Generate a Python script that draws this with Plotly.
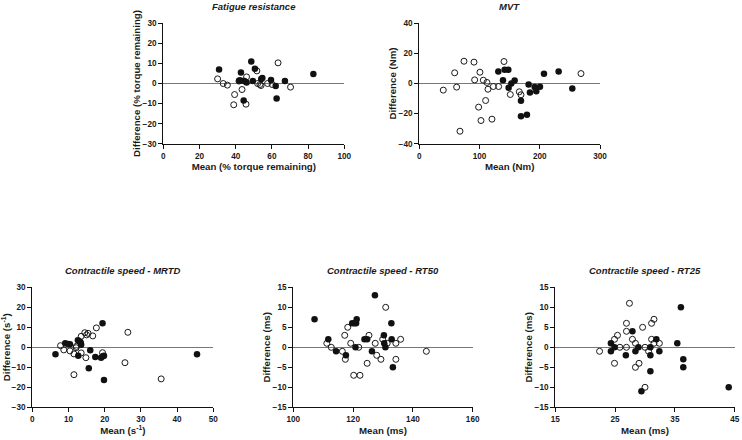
import plotly.graph_objects as go

# ---------------- data ----------------
fat_filled_x = [30.8, 42.9, 42.0, 42.7, 44.8, 46.0, 44.4, 48.6, 50.6, 49.5, 54.7, 54.1, 59.5, 62.1, 62.6, 67.2, 82.9]
fat_filled_y = [7.0, 5.5, 1.5, 1.5, 1.3, 0.5, -8.5, 11.0, 7.3, 1.3, 2.8, 2.3, 1.7, -1.3, -7.5, 1.3, 4.7]
fat_open_x = [30.0, 33.1, 35.4, 39.4, 38.9, 43.5, 45.7, 46.0, 41.8, 51.7, 52.1, 53.4, 54.0, 57.6, 60.2, 63.4, 70.3]
fat_open_y = [2.3, 0.0, -0.8, -5.5, -10.6, -3.0, -10.3, 3.3, 1.2, 6.3, 0.0, -0.5, -1.0, 0.0, -0.5, 10.3, -1.8]

mvt_filled_x = [131.2, 138.9, 141.7, 147.8, 148.3, 152.7, 158.3, 168.8, 168.8, 178.7, 181.5, 183.7, 191.5, 194.2, 200.3, 207.0, 231.3, 254.0]
mvt_filled_y = [8.0, 2.2, 9.1, 9.1, -2.9, 0.0, 2.0, -11.5, -21.7, -20.8, -0.7, -6.0, -2.4, -5.1, -2.2, 6.4, 8.0, -3.3]
mvt_open_x = [39.8, 58.7, 62.0, 67.5, 74.2, 90.8, 91.9, 98.5, 100.7, 102.4, 106.3, 110.1, 112.3, 114.0, 120.6, 122.9, 131.7, 140.6, 151.1, 166.0, 168.8, 268.4]
mvt_open_y = [-4.4, 7.1, -2.4, -31.7, 14.8, 14.2, 2.4, -15.7, 7.5, -24.6, 2.2, -11.3, 0.7, -3.8, -23.7, -2.0, -2.0, 14.6, -7.3, -5.5, -7.5, 6.6]

mrtd_filled_x = [6.4, 9.1, 9.9, 10.4, 12.6, 13.2, 13.4, 13.5, 12.7, 16.0, 15.6, 17.4, 19.0, 19.4, 19.5, 19.8, 19.8, 45.5]
mrtd_filled_y = [-3.5, 2.0, 1.7, 1.5, 3.5, 2.8, 2.2, 1.3, -4.2, -1.5, -10.5, -4.8, -5.2, 12.0, -4.5, -4.2, -16.3, -3.5]
mrtd_open_x = [7.8, 8.7, 10.4, 11.5, 11.5, 12.1, 12.2, 13.5, 13.5, 14.5, 15.0, 14.8, 15.4, 16.7, 17.7, 19.4, 26.4, 25.6, 35.6]
mrtd_open_y = [0.8, -1.3, -1.8, -3.3, -13.7, -0.2, 0.5, 5.5, -2.8, 7.3, 6.2, -5.2, 7.0, 5.7, 9.7, -2.7, 7.5, -7.7, -15.8]

rt50_filled_x = [107.1, 111.7, 114.3, 117.6, 119.7, 120.5, 121.0, 121.2, 120.8, 123.8, 124.7, 126.3, 127.3, 130.3, 130.4, 130.8, 132.8, 132.9, 133.3]
rt50_filled_y = [7, 2, -1, -2, 6, 6, 6, 7, 0, 2, 2, -1, 13, 3, 1, 0, 6, 2, -5]
rt50_open_x = [111.2, 112.7, 116.4, 117.2, 117.4, 118.2, 119.2, 120.2, 121.9, 122.3, 124.7, 125.3, 127.4, 127.9, 129.3, 129.9, 130.9, 131.4, 134.3, 134.3, 135.9, 144.5]
rt50_open_y = [1, 0, -1, 3, -3, 5, 1, -7, 0, -7, -4, 3, 1, -2, -3, 2, 10, 1, 1, -3, 2, -1]

rt25_filled_x = [24.3, 24.3, 24.9, 26.8, 27.9, 28.4, 28.9, 29.4, 30.9, 30.9, 30.9, 31.9, 32.4, 35.4, 36.0, 36.4, 36.4, 44.0]
rt25_filled_y = [1, -1, 0, -2, 4, -1, 0, -11, 0, -2, -6, 2, -1, 1, 10, -3, -5, -10]
rt25_open_x = [22.4, 24.9, 24.9, 25.4, 25.8, 26.9, 26.9, 26.9, 27.4, 27.9, 28.4, 28.4, 29.0, 29.6, 30.0, 30.0, 30.6, 31.1, 31.1, 31.5, 31.5, 32.4]
rt25_open_y = [-1, 2, -4, 3, 0, 0, 4, 6, 11, 2, 1, -5, -4, 5, 0, -10, -1, 6, 2, 7, 1, 1]

titles = ["Fatigue resistance", "MVT", "Contractile speed - MRTD",
          "Contractile speed - RT50", "Contractile speed - RT25"]
x_titles = ["Mean (% torque remaining)", "Mean (Nm)", "Mean (s<sup>-1</sup>)", "Mean (ms)", "Mean (ms)"]
y_titles = ["Difference (% torque remaining)", "Difference (Nm)", "Difference (s<sup>-1</sup>)",
            "Difference (ms)", "Difference (ms)"]
x_ranges = [[0, 100], [0, 300], [0, 50], [100, 160], [15, 45]]
x_dticks = [20, 100, 10, 20, 10]
y_ranges = [[-30, 30], [-40, 40], [-30, 30], [-15, 15], [-15, 15]]
y_dticks = [10, 20, 10, 5, 5]

panels = [
    (fat_filled_x, fat_filled_y, fat_open_x, fat_open_y),
    (mvt_filled_x, mvt_filled_y, mvt_open_x, mvt_open_y),
    (mrtd_filled_x, mrtd_filled_y, mrtd_open_x, mrtd_open_y),
    (rt50_filled_x, rt50_filled_y, rt50_open_x, rt50_open_y),
    (rt25_filled_x, rt25_filled_y, rt25_open_x, rt25_open_y),
]

# ---------------- layout geometry ----------------
W, H = 742, 440
x_dom_px = [(163.3, 344.3), (419.3, 600.0), (32.3, 213.3), (293.3, 472.7), (555.3, 734.7)]
y_dom_px = [(23.3, 143.7), (23.3, 143.7), (287.3, 407.3), (287.3, 407.3), (287.3, 407.3)]
title_y_px = [6, 6, 270, 270, 270]

FONT = "Liberation Sans, Arial, sans-serif"
INK = "#1a1a1a"

fig = go.Figure()
layout = dict(
    width=W, height=H,
    margin=dict(l=0, r=0, t=0, b=0),
    paper_bgcolor="white", plot_bgcolor="white",
    showlegend=False,
    font=dict(family=FONT, color=INK),
    annotations=[],
)

for i, (fx, fy, ox, oy) in enumerate(panels):
    n = i + 1
    xa = "x" if n == 1 else f"x{n}"
    ya = "y" if n == 1 else f"y{n}"
    fig.add_trace(go.Scatter(x=ox, y=oy, mode="markers", xaxis=xa, yaxis=ya,
                             marker=dict(symbol="circle-open", size=6, color=INK,
                                         line=dict(width=1, color=INK)),
                             cliponaxis=False))
    fig.add_trace(go.Scatter(x=fx, y=fy, mode="markers", xaxis=xa, yaxis=ya,
                             marker=dict(symbol="circle", size=6.5, color="#111111",
                                         line=dict(width=0)),
                             cliponaxis=False))
    x0, x1 = x_dom_px[i]
    y0, y1 = y_dom_px[i]
    common = dict(showline=True, linecolor="#111111", linewidth=1.3, ticks="outside",
                  ticklen=4, tickwidth=1.1, tickcolor="#111111", showgrid=False,
                  tickfont=dict(family=FONT, size=8.2, color=INK, weight="bold"),
                  automargin=False)
    layout["xaxis" if n == 1 else f"xaxis{n}"] = dict(
        common, domain=[x0 / W, x1 / W], range=x_ranges[i], dtick=x_dticks[i],
        tick0=x_ranges[i][0], anchor=ya, zeroline=False,
        title=dict(text=x_titles[i], standoff=3,
                   font=dict(family=FONT, size=9.7, color=INK, weight="bold")))
    layout["yaxis" if n == 1 else f"yaxis{n}"] = dict(
        common, domain=[1 - y1 / H, 1 - y0 / H], range=y_ranges[i], dtick=y_dticks[i],
        tick0=0, anchor=xa, zeroline=True, zerolinecolor="#777777", zerolinewidth=1,
        title=dict(text=y_titles[i], standoff=0,
                   font=dict(family=FONT, size=9.7, color=INK, weight="bold")))
    layout["annotations"].append(dict(
        text=f"<b><i>{titles[i]}</i></b>", xref="paper", yref="paper",
        x=(x0 + x1) / 2 / W, y=1 - title_y_px[i] / H, xanchor="center", yanchor="middle",
        showarrow=False, font=dict(family=FONT, size=9.5, color=INK)))

fig.update_layout(**layout)
fig.write_html("out.html",
               config={"displayModeBar": False},
               post_script="document.body.style.margin='0';document.body.style.overflow='hidden';")
